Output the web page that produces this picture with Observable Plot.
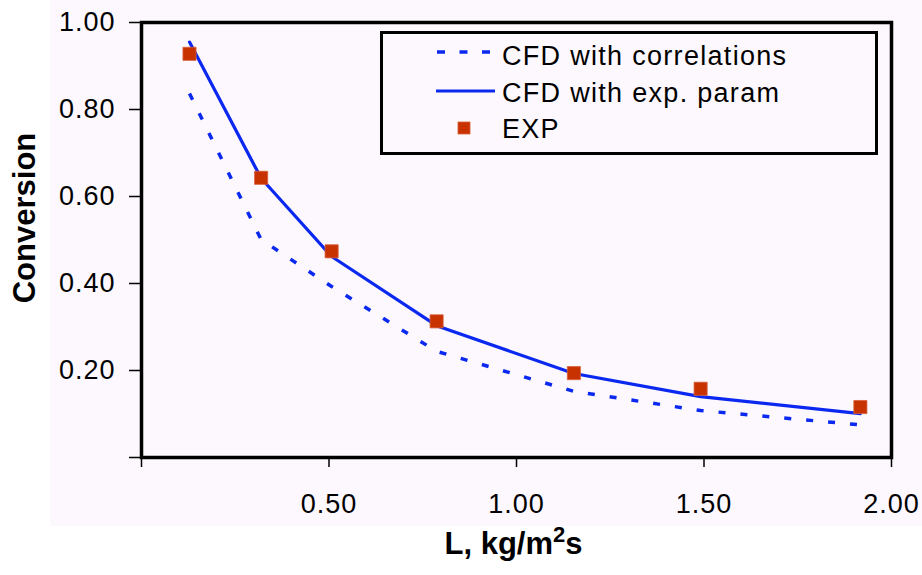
<!DOCTYPE html>
<html><head><meta charset="utf-8">
<script src="https://cdn.jsdelivr.net/npm/d3@7"></script>
<script src="https://cdn.jsdelivr.net/npm/@observablehq/plot@0.6"></script>
<style>
html,body{margin:0;padding:0;background:#fff;}
#wrap{position:relative;width:922px;height:575px;overflow:hidden;
  background: linear-gradient(#fcf8fd,#fcf8fd) 50px 0/872px 526px no-repeat, #fff;}
#legend{position:absolute;left:380px;top:31px;width:498px;height:124px;box-sizing:border-box;
  border:3px solid #000;background:#fcf8fd;}
#legend text{font-family:'Liberation Sans',Arial,sans-serif;font-size:27px;letter-spacing:1.3px;fill:#000;}
</style></head>
<body><div id="wrap"></div>
<script>
// Data
const L        = [0.128, 0.319, 0.507, 0.787, 1.153, 1.491, 1.917];
const expConv  = [0.928, 0.643, 0.474, 0.313, 0.194, 0.158, 0.116];
const cfdExp   = [0.955, 0.642, 0.462, 0.303, 0.193, 0.140, 0.101];
const cfdCorr  = [0.837, 0.501, 0.393, 0.244, 0.152, 0.108, 0.075];
const xTicks   = [0, 0.5, 1, 1.5, 2];
const yTicks   = [0, 0.2, 0.4, 0.6, 0.8, 1.0];
const seriesNames = ["CFD with correlations", "CFD with exp. param", "EXP"];
const xTitle = "L, kg/m2s";
const yTitle = "Conversion";

const blue = "#0a28f0", red = "#c83200";
const fmt = d => d === 0 ? "" : d3.format(".2f")(d);
const rows = a => L.map((x, i) => ({x, y: a[i]}));

const chart = Plot.plot({
  width: 922, height: 575,
  marginLeft: 141, marginRight: 31, marginTop: 22, marginBottom: 118,
  style: {fontFamily: "'Liberation Sans', Arial, sans-serif", background: "transparent", color: "#000"},
  x: {domain: [0, 2]},
  y: {domain: [0, 1]},
  marks: [
    Plot.axisX({ticks: xTicks, tickSize: 10, tickPadding: 26, tickFormat: fmt, fontSize: 27, strokeWidth: 1.5, label: null}),
    Plot.axisY({ticks: yTicks, tickSize: 12, tickPadding: 14, tickFormat: fmt, fontSize: 27, strokeWidth: 1.5, label: null}),
    Plot.frame({stroke: "#000", strokeWidth: 3.5}),
    Plot.line(rows(cfdCorr), {x: "x", y: "y", stroke: blue, strokeWidth: 3.5, strokeDasharray: "7,15", strokeLinecap: "butt"}),
    Plot.line(rows(cfdExp), {x: "x", y: "y", stroke: blue, strokeWidth: 3.2}),
    Plot.dot(rows(expConv), {x: "x", y: "y", symbol: "square", r: 7.4, fill: red, stroke: "#d8603a", strokeWidth: 0.8}),
    Plot.text([yTitle], {frameAnchor: "left", textAnchor: "middle", lineAnchor: "middle", text: d => d, rotate: -90, dx: -116, dy: -22, fontSize: 31, fontWeight: "bold"}),
    Plot.text([xTitle], {frameAnchor: "bottom", textAnchor: "middle", lineAnchor: "middle", text: d => d, dx: -3, dy: 87, fontSize: 31, fontWeight: "bold"})
  ]
});
d3.select(chart).selectAll('g[aria-label$="tick label"] text').style("letter-spacing", "1px");
// superscript in the x title
d3.select(chart).selectAll("text").filter(function() { return this.textContent === xTitle; })
  .each(function() {
    const t = d3.select(this);
    t.text("");
    t.append("tspan").text("L, kg/m");
    t.append("tspan").attr("dy", "-12px").attr("font-size", "22px").text("2");
    t.append("tspan").attr("dy", "12px").attr("font-size", "31px").text("s");
  });
document.getElementById("wrap").appendChild(chart);

// Legend
const lg = d3.select("#wrap").append("div").attr("id", "legend")
  .append("svg").attr("width", 492).attr("height", 118);
lg.append("line").attr("x1", 54).attr("x2", 107).attr("y1", 18).attr("y2", 18)
  .attr("stroke", blue).attr("stroke-width", 3.5).attr("stroke-dasharray", "8,14.5");
lg.append("line").attr("x1", 53).attr("x2", 112).attr("y1", 57).attr("y2", 57)
  .attr("stroke", blue).attr("stroke-width", 3.2);
lg.append("rect").attr("x", 75).attr("y", 88).attr("width", 12).attr("height", 12)
  .attr("fill", red).attr("stroke", "#d8603a").attr("stroke-width", 0.8);
const baselines = [31, 68, 104];
seriesNames.forEach((s, i) => lg.append("text").attr("x", 119).attr("y", baselines[i]).text(s));
</script>
</body></html>
